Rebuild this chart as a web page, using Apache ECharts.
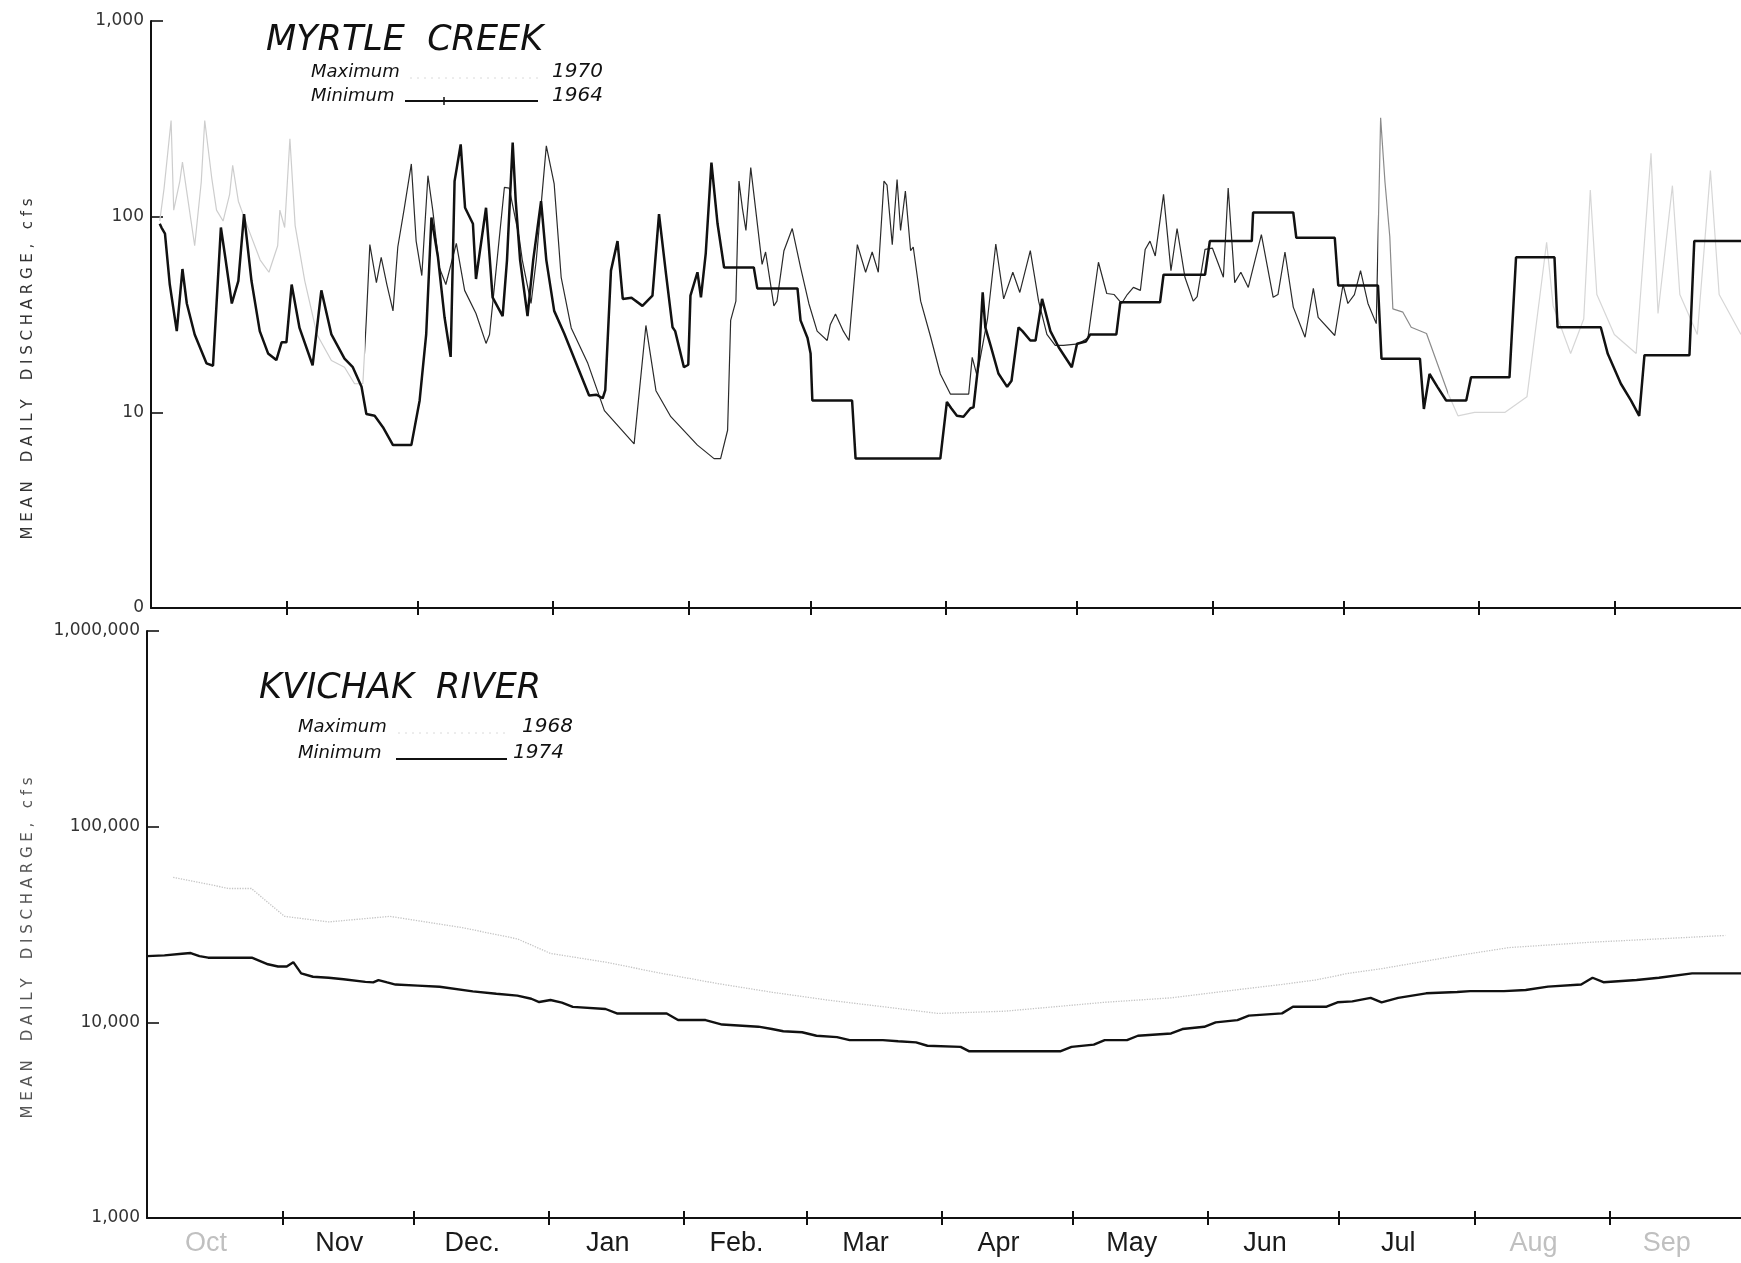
<!DOCTYPE html>
<html><head><meta charset="utf-8">
<script src="https://cdn.jsdelivr.net/npm/echarts@6/dist/echarts.min.js"></script>
<style>html,body{margin:0;padding:0;background:#fff}#c{width:1741px;height:1263px}</style>
</head><body><div id="c"></div>
<script>
// ---- axis categories / tick labels ----
const monthNames = ['Oct','Nov','Dec.','Jan','Feb.','Mar','Apr','May','Jun','Jul','Aug','Sep'];
const monthStartDays = [0,31,61,92,123,151,182,212,243,273,304,335,365];
const fadedMonths = ['Oct','Aug','Sep'];
const myrtleTickLabels = ['0','10','100','1,000'];          // 10^0 .. 10^3
const kvichakTickLabels = ['1,000','10,000','100,000','1,000,000']; // 10^3 .. 10^6

// ---- Myrtle Creek: [day of water year, cfs] ----
const myrtleMin1964 = [
[2,92],[2.4,88],[3.2,82],[4.3,45],[5.9,26],[7.2,54],[8.2,36],[10,25],[12.7,17.8],[14.2,17.3],[16,88],[17,62],[18.5,36],[20,47],[21.3,103],[23,47],[24.9,26],[26.8,20],[28.7,18.5],[29.9,22.8],[31,22.8],[32.2,45],[34,27],[37,17.4],[39,42],[41.3,25],[44.3,18.8],[46.2,17],[48.2,13.5],[49.3,9.8],[51.2,9.6],[53.1,8.4],[55.4,6.8],[59.6,6.8],[61.5,11.5],[63,25],[64.2,99],[65.7,62],[67.2,30.6],[68.6,19.2],[69.5,152],[70.9,234],[71.9,111],[73.7,92],[74.4,48],[76.7,111],[78.2,38.7],[80.5,31],[81.5,60],[82.8,239],[83.5,120],[84.5,60],[86.2,31],[87.5,60],[89.3,120],[90.5,60],[92.3,33],[94.6,25.3],[97.7,17],[100.3,12.2],[102,12.3],[103.4,11.8],[104,13],[105.3,53],[106.8,75],[108,38],[110,38.5],[112.5,35],[114.8,39.5],[116.3,103],[117.9,51],[119.4,27.2],[120,26],[122,17],[123,17.5],[123.5,39.5],[125.1,52],[125.9,38.7],[127,65],[128.3,189],[129.7,92],[131.2,55],[138,55],[138.8,43],[148,43],[148.7,29.5],[150.3,24],[151,20],[151.4,11.5],[160.5,11.5],[161.3,5.8],[180.7,5.8],[182.2,11.3],[183.2,10.5],[184.5,9.6],[186,9.5],[187.6,10.5],[188.3,10.6],[189.5,18.4],[190.4,41],[191,27.2],[192.2,22],[194,15.8],[196,13.5],[197,14.5],[198.6,27.2],[199.5,26],[201.3,23.3],[202.5,23.3],[204,38],[205.9,26],[207.8,21.5],[210.8,17],[212,22.4],[214,23],[215,25],[221,25],[221.9,36.5],[231,36.5],[231.8,50.5],[241.3,50.5],[242.4,75],[252,75],[252.3,105],[261.5,105],[262.2,78],[271,78],[271.8,44.5],[280.9,44.5],[281.7,18.8],[290.5,18.8],[291.4,10.4],[292.7,15.7],[294.5,13.5],[296.5,11.5],[301.1,11.5],[302.2,15.1],[311,15.1],[312.5,62],[321.3,62],[322,27.2],[331.9,27.2],[333.5,19.9],[336.5,14],[338.8,11.5],[340.7,9.6],[341.9,19.6],[352.2,19.6],[353.3,75],[364,75]
];
const myrtleMax1970 = [
[2,95],[3,140],[4.6,310],[5.2,108],[6.6,152],[7.2,190],[8.5,120],[10,71],[11.5,150],[12.3,310],[13.9,158],[15,108],[16.5,95],[18,130],[18.7,183],[20,120],[22,90],[25,60],[27,52],[29,71],[29.5,108],[30.6,88],[31.8,250],[33,90],[34,67],[35.2,47],[38,25],[41.3,18.4],[44.3,17],[46.6,14],[48.5,14],[49.3,30],[50.1,72],[51.6,46],[52.7,62],[54,45],[55.4,33],[56.5,70],[58,111],[59.6,186],[60.7,75],[62,50],[63.4,162],[64.5,108],[66,55],[67.5,45],[69.9,73],[71.8,42],[74.4,32],[76.7,22.5],[77.5,25],[78.6,43.5],[80.9,141],[82,140],[84.3,78],[85,60],[87,36],[88.2,60],[90.5,230],[92.3,147],[93.9,49],[96.2,27],[100,17.8],[103.8,10.2],[110.6,6.9],[113.3,27.8],[115.6,12.9],[119,9.5],[125.1,6.8],[128.9,5.8],[130.4,5.8],[132,8.1],[132.7,29.5],[133.9,37],[134.6,152],[135.4,110],[136.2,85],[137.3,178],[139.9,57],[140.7,66],[142.6,35],[143.3,37],[144.9,67],[146.8,87],[148.7,55],[150.6,36],[152.5,26],[154.8,23.3],[155.5,28],[156.7,31.8],[158.5,26],[159.8,23.3],[161.7,72],[163.6,52],[165.1,66],[166.5,52],[167.8,152],[168.5,145],[169.7,72],[170.8,155],[171.6,85],[172.7,135],[173.9,67],[174.5,70],[176.2,37],[178.5,24.2],[180.7,15.7],[183,12.4],[187.2,12.4],[188,19.1],[189.1,15.4],[191.5,30],[193.4,72.5],[195.2,38],[197.3,52],[198.9,41],[201.3,67],[203.2,37],[205.1,25],[207,22],[208.9,22],[212.3,22.4],[214.5,24],[216.9,58.5],[218.8,40.5],[220.5,40],[222.2,36],[223.5,40],[224.9,43.5],[226.5,42],[227.6,68],[228.7,75],[229.9,63],[231.8,130],[233.5,53],[234.9,87],[236.7,49],[238.6,37],[239.5,39],[241.3,68],[243,69],[245.5,49],[246.6,140],[248.1,46],[249.5,52],[251.2,43.5],[254.2,81],[256.9,38.7],[258,40],[259.6,66],[261.5,34.5],[264.2,24.2],[266.1,43],[267.2,30.6],[271,24.7],[272.9,45],[274,36],[275.5,40],[276.9,53],[278.6,36],[280.5,28.4],[281.5,320],[282.5,150],[283.6,79],[284.3,33.8],[286.6,32.5],[288.5,27.2],[292,25.3],[297,12.4],[299.2,9.6],[303,10],[310,10],[315,12],[318,40],[319.5,74],[321,35],[325,20],[328,30],[329.5,137],[331,40],[335,25],[340,20],[343.4,211],[345,32],[348.3,144],[350,40],[354,25],[357,172],[359,40],[364,25]
];

// ---- Kvichak River: [day of water year, cfs] ----
const kvichakMin1974 = [
[0,21800],[4,22000],[8,22400],[10,22600],[12,21800],[14,21400],[24,21400],[27.7,19800],[30,19300],[32,19300],[33.5,20300],[35.3,17800],[38,17100],[41.6,16900],[45,16600],[50,16100],[51.8,16000],[53,16450],[55,16000],[56.9,15600],[62,15400],[67,15200],[74.6,14400],[80,14000],[84.8,13700],[88,13200],[89.8,12700],[92.4,13000],[95,12600],[97.5,12000],[105,11700],[107.6,11100],[119,11100],[121.6,10270],[127.9,10270],[131.7,9740],[140,9500],[143.1,9240],[145.7,9000],[150,8900],[153.3,8540],[158,8400],[160.9,8110],[168.5,8110],[172,8000],[176.1,7900],[178.7,7590],[186.3,7490],[188.3,7110],[209.1,7110],[211.7,7490],[216.8,7690],[219.3,8110],[224.4,8110],[226.9,8540],[234.5,8770],[237.1,9240],[242.1,9490],[244.7,10000],[249.7,10270],[252.3,10820],[259.9,11110],[262.4,12020],[270.1,12020],[272.6,12660],[276,12800],[280.2,13340],[282.7,12660],[286.5,13340],[292.9,14070],[300,14300],[303,14440],[310.7,14440],[315.7,14630],[320.8,15220],[328.4,15620],[331,16900],[333.5,16030],[341.1,16450],[346.2,16900],[353.8,17800],[365,17800]
];
const kvichakMax1968 = [
[6,55100],[18.8,48300],[23.9,48300],[31.5,34800],[41.6,32600],[55.6,34800],[72.1,30500],[84.8,26700],[92.4,22500],[105,20300],[117.8,17800],[130.5,15800],[143.1,14250],[155.8,13000],[168.5,12020],[181.2,11100],[196.4,11400],[219.3,12660],[234.5,13340],[251,14800],[259.9,15620],[267.5,16450],[275.1,17800],[282.7,18800],[300.5,22000],[311.9,24100],[331,25700],[346.2,26700],[361.4,27800]
];

const tickDays = monthStartDays.slice(1, 12);
const labelDays = monthNames.map((m, i) => (monthStartDays[i] + monthStartDays[i + 1]) / 2 - 2);

function monthAxis(gridIndex, max, inside, showLabels) {
  return {
    type: 'value', gridIndex, min: 0, max, position: 'bottom',
    axisLine: { show: !inside, onZero: false, lineStyle: { color: '#111', width: 2 } },
    axisTick: { show: true, inside, length: 7, customValues: tickDays, lineStyle: { color: '#111', width: 2 } },
    axisLabel: {
      show: showLabels, customValues: labelDays, margin: 12,
      fontFamily: '"Liberation Sans Narrow", "Liberation Sans", sans-serif', fontSize: 27, color: '#1a1a1a',
      formatter: v => {
        let best = 0;
        labelDays.forEach((d, i) => { if (Math.abs(d - v) < Math.abs(labelDays[best] - v)) best = i; });
        const n = monthNames[best];
        return fadedMonths.includes(n) ? '{f|' + n + '}' : n;
      },
      rich: { f: { color: '#c0c0c0', fontSize: 27, fontFamily: '"Liberation Sans Narrow", "Liberation Sans", sans-serif' } }
    },
    splitLine: { show: false }
  };
}
function logAxis(gridIndex, min, max, labels, base) {
  return {
    type: 'log', logBase: 10, gridIndex, min, max,
    axisLine: { show: true, onZero: false, lineStyle: { color: '#111', width: 2 } },
    axisTick: { show: true, inside: true, length: 12, lineStyle: { color: '#111', width: 1.6 } },
    axisLabel: {
      margin: 7, color: '#333', fontFamily: '"DejaVu Sans", sans-serif', fontSize: 17,
      formatter: v => labels[Math.round(Math.log10(v)) - base] || ''
    },
    splitLine: { show: false }, minorTick: { show: false }
  };
}

const italic = s => 'italic ' + s + 'px "DejaVu Sans", sans-serif';
const yName = 'M E A N    D A I L Y    D I S C H A R G E ,   c f s';

const chart = echarts.init(document.getElementById('c'), null, { renderer: 'canvas' });
chart.setOption({
  animation: false,
  backgroundColor: '#fff',
  grid: [
    { left: 151, top: 21, width: 1590, height: 587 },
    { left: 147, top: 631, width: 1594, height: 587 }
  ],
  xAxis: [
    monthAxis(0, 364, false, false),
    monthAxis(0, 364, true, false),
    monthAxis(1, 365, false, true),
    monthAxis(1, 365, true, false)
  ],
  yAxis: [
    logAxis(0, 1, 1000, myrtleTickLabels, 0),
    logAxis(1, 1000, 1000000, kvichakTickLabels, 3)
  ],
  visualMap: [{
    type: 'piecewise', show: false, seriesIndex: 1, dimension: 0,
    pieces: [
      { lt: 49, color: '#cdcdcd' },
      { gte: 49, lt: 281, color: '#2a2a2a' },
      { gte: 281, lt: 297, color: '#8a8a8a' },
      { gte: 297, color: '#d6d6d6' }
    ]
  }],
  series: [
    { name: 'Minimum 1964', type: 'line', xAxisIndex: 0, yAxisIndex: 0, data: myrtleMin1964,
      showSymbol: false, lineStyle: { color: '#111', width: 2.5 }, z: 4 },
    { name: 'Maximum 1970', type: 'line', xAxisIndex: 0, yAxisIndex: 0, data: myrtleMax1970,
      showSymbol: false, lineStyle: { width: 1.2 }, z: 3 },
    { name: 'Minimum 1974', type: 'line', xAxisIndex: 2, yAxisIndex: 1, data: kvichakMin1974,
      showSymbol: false, lineStyle: { color: '#111', width: 2.4 }, itemStyle: { color: '#111' }, z: 4 },
    { name: 'Maximum 1968', type: 'line', xAxisIndex: 2, yAxisIndex: 1, data: kvichakMax1968,
      showSymbol: false, lineStyle: { color: '#c4c4c4', width: 1.3, type: 'dotted' }, itemStyle: { color: '#c4c4c4' }, z: 3 }
  ],
  graphic: [
    { type: 'text', x: 266, y: 41, style: { text: 'MYRTLE  CREEK', font: italic(35), fill: '#111', verticalAlign: 'middle' } },
    { type: 'text', x: 311, y: 72, style: { text: 'Maximum', font: italic(18), fill: '#111', verticalAlign: 'middle' } },
    { type: 'line', shape: { x1: 410, y1: 78, x2: 538, y2: 78 }, style: { stroke: '#dadada', lineWidth: 1, lineDash: [2, 5] } },
    { type: 'text', x: 552, y: 72, style: { text: '1970', font: italic(20), fill: '#111', verticalAlign: 'middle' } },
    { type: 'text', x: 311, y: 96, style: { text: 'Minimum', font: italic(18), fill: '#111', verticalAlign: 'middle' } },
    { type: 'line', shape: { x1: 405, y1: 101, x2: 538, y2: 101 }, style: { stroke: '#111', lineWidth: 2 } },
    { type: 'line', shape: { x1: 444, y1: 97, x2: 444, y2: 105 }, style: { stroke: '#111', lineWidth: 1.5 } },
    { type: 'text', x: 552, y: 96, style: { text: '1964', font: italic(20), fill: '#111', verticalAlign: 'middle' } },

    { type: 'text', x: 259, y: 689, style: { text: 'KVICHAK  RIVER', font: italic(35), fill: '#111', verticalAlign: 'middle' } },
    { type: 'text', x: 298, y: 727, style: { text: 'Maximum', font: italic(18), fill: '#111', verticalAlign: 'middle' } },
    { type: 'line', shape: { x1: 398, y1: 733, x2: 510, y2: 733 }, style: { stroke: '#dadada', lineWidth: 1, lineDash: [2, 5] } },
    { type: 'text', x: 522, y: 727, style: { text: '1968', font: italic(20), fill: '#111', verticalAlign: 'middle' } },
    { type: 'text', x: 298, y: 753, style: { text: 'Minimum', font: italic(18), fill: '#111', verticalAlign: 'middle' } },
    { type: 'line', shape: { x1: 396, y1: 759, x2: 507, y2: 759 }, style: { stroke: '#111', lineWidth: 2 } },
    { type: 'text', x: 513, y: 753, style: { text: '1974', font: italic(20), fill: '#111', verticalAlign: 'middle' } },

    { type: 'text', x: 28, y: 369, rotation: Math.PI / 2,
      style: { text: yName, font: '15px "DejaVu Sans", sans-serif', fill: '#333', align: 'center', verticalAlign: 'middle' } },
    { type: 'text', x: 28, y: 948, rotation: Math.PI / 2,
      style: { text: yName, font: '15px "DejaVu Sans", sans-serif', fill: '#555', align: 'center', verticalAlign: 'middle' } }
  ]
});
</script>
</body></html>
